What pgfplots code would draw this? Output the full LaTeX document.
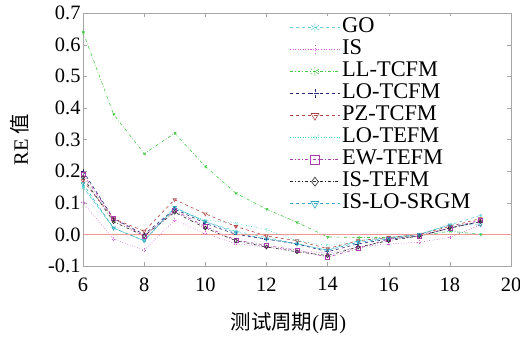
\documentclass[border=0pt]{standalone}
\usepackage{pgfplots}
\pgfplotsset{compat=1.18}
\usepackage{fontspec}
\setmainfont{Liberation Serif}
\newfontfamily\cjk{Noto Sans CJK SC}
\definecolor{cGO}{RGB}{100,205,215}
\definecolor{cIS}{RGB}{205,90,205}
\definecolor{cLL}{RGB}{70,200,70}
\definecolor{cLOT}{RGB}{40,40,120}
\definecolor{cPZ}{RGB}{175,70,70}
\definecolor{cLOE}{RGB}{70,215,195}
\definecolor{cEW}{RGB}{170,60,170}
\definecolor{cIST}{RGB}{40,40,40}
\definecolor{cISLO}{RGB}{50,170,195}
\definecolor{zeroline}{RGB}{240,150,150}
\begin{document}
\begin{tikzpicture}
\begin{axis}[
  name=ax,
  scale only axis,
  width=428bp, height=253bp,
  xmin=6, xmax=20, ymin=-0.1, ymax=0.7,
  xtick={6,8,...,20},
  ytick={-0.1,0,0.1,0.2,0.3,0.4,0.5,0.6,0.7},
  tick align=inside,
  tick pos=both,
  axis line style={gray!70},
  major tick style={gray!70},
  yticklabel style={/pgf/number format/fixed,/pgf/number format/fixed zerofill,/pgf/number format/precision=1},
  /pgf/number format/assume math mode=true,
  tick label style={font=\fontsize{20.5}{23}\selectfont},
  xticklabel style={yshift=-8bp},
  yticklabel style={xshift=1bp},
  xlabel={{\cjk 测试周期}({\cjk 周})},
  ylabel={RE {\cjk 值}},
  label style={font=\fontsize{20.5}{23}\selectfont},
  xlabel style={at={(axis description cs:0.48,-0.225)},anchor=center},
  ylabel style={at={(axis description cs:-0.147,0.5)},anchor=center},
  legend style={at={(0.48,0.99)},anchor=north west,draw=none,fill=white,
    font=\fontsize{22.5}{24}\selectfont,inner sep=1bp,row sep=0bp,
    nodes={text height=14bp,text depth=4bp,inner sep=2bp}},
  legend cell align=left,
  legend image code/.code={\draw[mark size=4.5bp,mark repeat=2,mark phase=2] plot coordinates {(0bp,0bp) (25bp,0bp) (50bp,0bp)};},
  every axis plot/.append style={line width=0.6pt, mark size=2bp},
]
\addplot[cGO, dashed, mark=asterisk] coordinates {(6,0.15)(7,0.02)(8,-0.02)(9,0.085)(10,0.04)(11,0.01)(12,-0.01)(13,-0.03)(14,-0.05)(15,-0.02)(16,-0.01)(17,0.0)(18,0.03)(19,0.06)};
\addlegendentry{GO}
\addplot[cIS, dotted, mark=+] coordinates {(6,0.10)(7,-0.015)(8,-0.05)(9,0.045)(10,0.003)(11,-0.03)(12,-0.04)(13,-0.05)(14,-0.06)(15,-0.04)(16,-0.03)(17,-0.025)(18,-0.01)(19,0.03)};
\addlegendentry{IS}
\addplot[cLL, dash dot, mark=asterisk] coordinates {(6,0.64)(7,0.38)(8,0.255)(9,0.32)(10,0.215)(11,0.13)(12,0.08)(13,0.038)(14,-0.008)(15,-0.01)(16,-0.01)(17,-0.005)(18,0.01)(19,0.0)};
\addlegendentry{LL-TCFM}
\addplot[cLOT, dashed, mark=+] coordinates {(6,0.20)(7,0.05)(8,0.0)(9,0.08)(10,0.035)(11,0.0)(12,-0.015)(13,-0.03)(14,-0.055)(15,-0.03)(16,-0.015)(17,-0.005)(18,0.02)(19,0.04)};
\addlegendentry{LO-TCFM}
\addplot[cPZ, dashed, mark=triangle, mark options={solid,rotate=180}] coordinates {(6,0.17)(7,0.05)(8,0.01)(9,0.11)(10,0.065)(11,0.025)(12,-0.005)(13,-0.02)(14,-0.045)(15,-0.02)(16,-0.01)(17,0.0)(18,0.025)(19,0.05)};
\addlegendentry{PZ-TCFM}
\addplot[cLOE, dotted, mark=asterisk] coordinates {(6,0.15)(7,0.02)(8,-0.02)(9,0.08)(10,0.045)(11,0.035)(12,0.015)(13,-0.02)(14,-0.035)(15,-0.025)(16,-0.015)(17,-0.005)(18,0.01)(19,0.0)};
\addlegendentry{LO-TEFM}
\addplot[cEW, dash dot, mark=square, mark options={solid}] coordinates {(6,0.19)(7,0.05)(8,-0.005)(9,0.075)(10,0.025)(11,-0.018)(12,-0.035)(13,-0.05)(14,-0.072)(15,-0.045)(16,-0.015)(17,-0.005)(18,0.02)(19,0.045)};
\addlegendentry{EW-TEFM}
\addplot[cIST, dash dot, mark=diamond, mark options={solid}] coordinates {(6,0.18)(7,0.04)(8,-0.005)(9,0.07)(10,0.02)(11,-0.02)(12,-0.04)(13,-0.055)(14,-0.067)(15,-0.04)(16,-0.02)(17,-0.005)(18,0.02)(19,0.04)};
\addlegendentry{IS-TEFM}
\addplot[cISLO, dashed, mark=triangle, mark options={solid,rotate=180}] coordinates {(6,0.16)(7,0.02)(8,-0.02)(9,0.085)(10,0.04)(11,0.005)(12,-0.015)(13,-0.03)(14,-0.05)(15,-0.025)(16,-0.012)(17,0.0)(18,0.03)(19,0.03)};
\addlegendentry{IS-LO-SRGM}
\addplot[zeroline, line width=1.2pt, forget plot] coordinates {(6,0)(20,0)};
\end{axis}
\pgfresetboundingbox
\path[use as bounding box] ([xshift=-83bp,yshift=-72bp]ax.south west) rectangle ([xshift=9bp,yshift=13bp]ax.north east);
\end{tikzpicture}
\end{document}
